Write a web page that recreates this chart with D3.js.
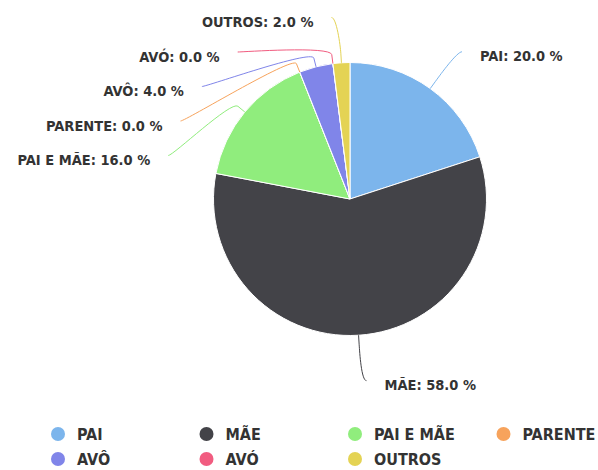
<!DOCTYPE html>
<html>
<head>
<meta charset="utf-8">
<script src="https://cdn.jsdelivr.net/npm/d3@7"></script>
<style>
  body { margin: 0; background: #fff; }
  svg { display: block; }
</style>
</head>
<body>
<div id="chart"></div>
<script>
// data
const categories = ["PAI", "MÃE", "PAI E MÃE", "PARENTE", "AVÔ", "AVÓ", "OUTROS"];
const shares = [20.0, 58.0, 16.0, 0.0, 4.0, 0.0, 2.0];
const colors = ["#7cb5ec", "#434348", "#90ed7d", "#f7a35c", "#8085e9", "#f15c80", "#e4d354"];

const width = 598, height = 470;
const cx = 350, cy = 199, radius = 136.5;
const R = 182;               // label circle
const connectorPadding = 5;
const labelSpacing = 34.5;   // min vertical gap between stacked labels
const labelTop = 17.5;
const textGap = 18;
const font = "'DejaVu Sans Condensed', 'DejaVu Sans', sans-serif";

const data = categories.map((c, i) => ({ name: c, value: shares[i], color: colors[i] }));

const svg = d3.select("#chart").append("svg")
  .attr("width", width)
  .attr("height", height);

const pie = d3.pie().sort(null).value(d => d.value);
const arcs = pie(data);
const arc = d3.arc().innerRadius(0).outerRadius(radius);

const g = svg.append("g").attr("transform", `translate(${cx},${cy})`);

g.selectAll("path.slice")
  .data(arcs)
  .join("path")
  .attr("class", "slice")
  .attr("d", arc)
  .attr("fill", d => d.data.color)
  .attr("stroke", "#fff")
  .attr("stroke-width", 1)
  .attr("stroke-linejoin", "round");

// label positions: along the mid angle, then stacked per side
const polar = (a, rr) => [cx + rr * Math.sin(a), cy - rr * Math.cos(a)];

const labels = arcs.map(d => {
  const a = (d.startAngle + d.endAngle) / 2;
  return { d, a, left: a > Math.PI, y: polar(a, R)[1] };
});

["left", "right"].forEach(side => {
  const grp = labels.filter(l => (side === "left") === l.left).sort((p, q) => p.y - q.y);
  let prev = -Infinity;
  grp.forEach(l => {
    l.y = Math.max(l.y, labelTop, prev + labelSpacing);
    prev = l.y;
  });
});

labels.forEach(l => {
  const dy = l.y - cy;
  const dx = Math.sqrt(Math.max(0, R * R - dy * dy)) + connectorPadding;
  l.x = l.left ? cx - dx : cx + dx;
  const [bx, by] = polar(l.a, radius + 9);
  const [tx, ty] = polar(l.a, radius);
  const p = d3.path();
  p.moveTo(l.x, l.y);
  p.bezierCurveTo(l.x + (l.left ? 5 : -5), l.y, 2 * bx - tx, 2 * by - ty, bx, by);
  p.lineTo(tx, ty);
  l.path = p.toString();
});

svg.append("g").selectAll("path")
  .data(labels)
  .join("path")
  .attr("d", l => l.path)
  .attr("fill", "none")
  .attr("stroke", l => l.d.data.color)
  .attr("stroke-width", 1);

svg.append("g").selectAll("text")
  .data(labels)
  .join("text")
  .attr("x", l => l.left ? l.x - textGap : l.x + textGap)
  .attr("y", l => l.y + 4.5)
  .attr("text-anchor", l => l.left ? "end" : "start")
  .attr("dominant-baseline", "central")
  .attr("font-family", font)
  .attr("font-weight", "bold")
  .attr("font-size", "14.5px")
  .attr("fill", "#333")
  .attr("stroke", "#fff")
  .attr("stroke-width", 2)
  .attr("paint-order", "stroke")
  .text(l => `${l.d.data.name}: ${l.d.data.value.toFixed(1)} %`);

// legend
const legendX = 58, legendY = 434, colW = 148.5, rowH = 25, perRow = 4;
const legend = svg.append("g").selectAll("g")
  .data(data)
  .join("g")
  .attr("transform", (d, i) => `translate(${legendX + (i % perRow) * colW},${legendY + Math.floor(i / perRow) * rowH})`);

legend.append("circle")
  .attr("r", 7)
  .attr("fill", d => d.color);

legend.append("text")
  .attr("x", 19)
  .attr("dominant-baseline", "central")
  .attr("font-family", font)
  .attr("font-weight", "bold")
  .attr("font-size", "16px")
  .attr("fill", "#333")
  .text(d => d.name);
</script>
</body>
</html>
